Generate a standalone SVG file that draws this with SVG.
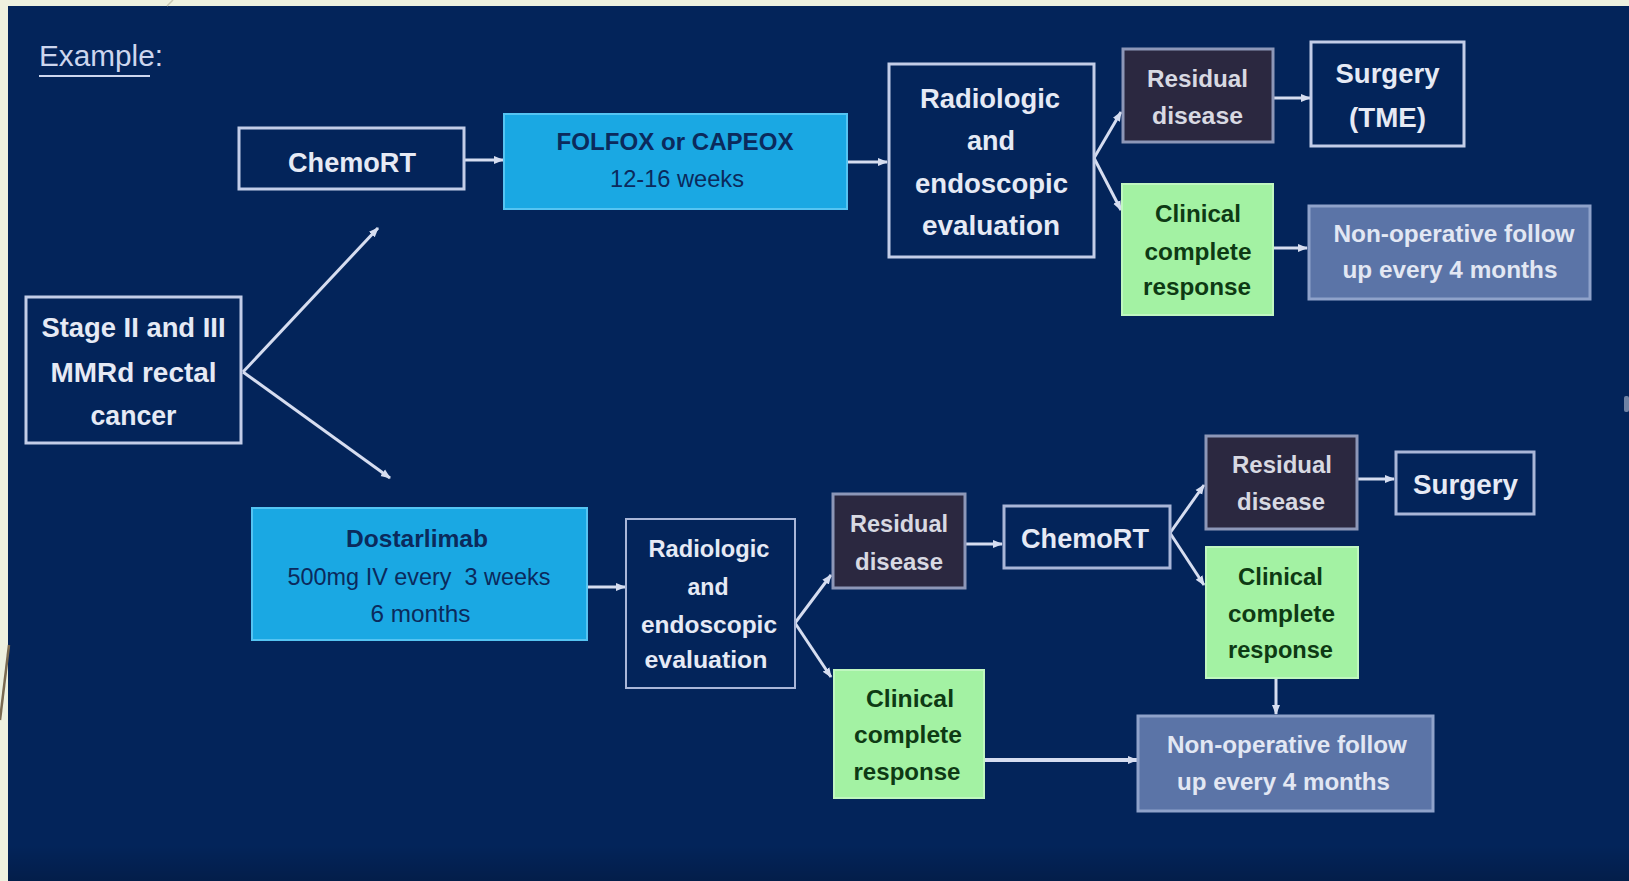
<svg xmlns="http://www.w3.org/2000/svg" width="1629" height="881" viewBox="0 0 1629 881">
<defs>
<style>
.t{font-family:"Liberation Sans",Arial,sans-serif;text-anchor:middle;font-weight:bold;}
.lt{fill:#e6eaf5;}
.dk{fill:#0b2a5c;}
.gr{fill:#0e3a14;}
.f28{font-size:28px;}
.f24{font-size:24px;}
.navy{fill:#03245a;stroke:#c3cde8;stroke-width:3;}
.blue{fill:#1aa8e3;stroke:#55c4f2;stroke-width:2;}
.green{fill:#a3f2a3;stroke:#c0f7c0;stroke-width:2;}
.resid{fill:#2b2840;stroke:#8d97b8;stroke-width:3;}
.nonop{fill:#5b74a7;stroke:#8fa2ca;stroke-width:3;}
.c{fill:none;stroke:#d6ddf0;stroke-width:3;marker-end:url(#ah);}
</style>
<marker id="ah" markerUnits="userSpaceOnUse" markerWidth="10" markerHeight="10" refX="9" refY="5" orient="auto">
<path d="M0,1 L10,5 L0,9 z" fill="#d6ddf0"/>
</marker>
<linearGradient id="btm" x1="0" y1="0" x2="0" y2="1">
<stop offset="0" stop-color="#000" stop-opacity="0"/>
<stop offset="1" stop-color="#000" stop-opacity="0.18"/>
</linearGradient>
</defs>
<rect x="0" y="0" width="1629" height="881" fill="#eef1df"/>
<rect x="8" y="6" width="1621" height="875" fill="#03245a"/>
<rect x="8" y="845" width="1621" height="36" fill="url(#btm)"/>
<line x1="9" y1="645" x2="0" y2="720" stroke="#7a6a50" stroke-width="2.5"/>
<line x1="173" y1="0" x2="167" y2="6" stroke="#c9c9b4" stroke-width="1.5"/>
<rect x="1624" y="396" width="5" height="16" rx="2" fill="#c8d0e2" opacity="0.55"/>

<g id="title">
<text x="39" y="66" font-family="Liberation Sans, Arial, sans-serif" font-size="30" fill="#cdd6ee" textLength="124" lengthAdjust="spacingAndGlyphs">Example:</text>
<line x1="39" y1="76" x2="150" y2="76" stroke="#cdd6ee" stroke-width="2"/>
</g>

<g id="connectors">
<path class="c" d="M243,372 L378,228"/>
<path class="c" d="M243,372 L390,478"/>
<path class="c" d="M464,160 L503,160"/>
<path class="c" d="M847,162 L887,162"/>
<path class="c" d="M1094,158 L1121,112"/>
<path class="c" d="M1094,158 L1121,210"/>
<path class="c" d="M1273,98 L1310,98"/>
<path class="c" d="M1273,248 L1307,248"/>
<path class="c" d="M587,587 L625,587"/>
<path class="c" d="M795,623 L831,575"/>
<path class="c" d="M795,623 L831,677"/>
<path class="c" d="M965,544 L1002,544"/>
<path class="c" d="M1170,533 L1204,485"/>
<path class="c" d="M1170,533 L1204,585"/>
<path class="c" d="M1357,479 L1394,479"/>
<path class="c" d="M1276,679 L1276,714"/>
<path class="c" d="M984,760 L1137,760" style="stroke-width:4"/>
</g>

<g id="stage">
<rect class="navy" x="26" y="297" width="215" height="146"/>
<text class="t lt f28" x="133.5" y="337" textLength="184" lengthAdjust="spacingAndGlyphs">Stage II and III</text>
<text class="t lt f28" x="133.5" y="382" textLength="166" lengthAdjust="spacingAndGlyphs">MMRd rectal</text>
<text class="t lt f28" x="133.5" y="425" textLength="86" lengthAdjust="spacingAndGlyphs">cancer</text>
</g>

<g id="chemort-top">
<rect class="navy" x="239" y="128" width="225" height="61"/>
<text class="t lt f28" x="352" y="172" textLength="128" lengthAdjust="spacingAndGlyphs">ChemoRT</text>
</g>

<g id="folfox">
<rect class="blue" x="504" y="114" width="343" height="95"/>
<text class="t dk f24" x="675" y="150" textLength="237" lengthAdjust="spacingAndGlyphs">FOLFOX or CAPEOX</text>
<text class="t dk f24" x="677" y="187" style="font-weight:normal" textLength="134" lengthAdjust="spacingAndGlyphs">12-16 weeks</text>
</g>

<g id="radiologic-top">
<rect class="navy" x="889" y="64" width="205" height="193"/>
<text class="t lt f28" x="990" y="108" textLength="140" lengthAdjust="spacingAndGlyphs">Radiologic</text>
<text class="t lt f28" x="991" y="150" textLength="48" lengthAdjust="spacingAndGlyphs">and</text>
<text class="t lt f28" x="991.5" y="193" textLength="153" lengthAdjust="spacingAndGlyphs">endoscopic</text>
<text class="t lt f28" x="991" y="235" textLength="138" lengthAdjust="spacingAndGlyphs">evaluation</text>
</g>

<g id="residual-top">
<rect class="resid" x="1123" y="49" width="150" height="93"/>
<text class="t f24" fill="#d8d9e2" x="1197.5" y="87" textLength="101" lengthAdjust="spacingAndGlyphs">Residual</text>
<text class="t f24" fill="#d8d9e2" x="1197.5" y="124" textLength="91" lengthAdjust="spacingAndGlyphs">disease</text>
</g>

<g id="surgery-tme">
<rect class="navy" x="1311" y="42" width="153" height="104"/>
<text class="t lt f28" x="1387.5" y="83" textLength="104" lengthAdjust="spacingAndGlyphs">Surgery</text>
<text class="t lt f28" x="1387.5" y="127" textLength="77" lengthAdjust="spacingAndGlyphs">(TME)</text>
</g>

<g id="ccr-top">
<rect class="green" x="1122" y="184" width="151" height="131"/>
<text class="t gr f24" x="1198" y="222" textLength="86" lengthAdjust="spacingAndGlyphs">Clinical</text>
<text class="t gr f24" x="1198" y="260" textLength="107" lengthAdjust="spacingAndGlyphs">complete</text>
<text class="t gr f24" x="1197" y="295" textLength="108" lengthAdjust="spacingAndGlyphs">response</text>
</g>

<g id="nonop-top">
<rect class="nonop" x="1309" y="206" width="281" height="93"/>
<text class="t f24" fill="#e2e7f3" x="1454" y="242" textLength="241" lengthAdjust="spacingAndGlyphs">Non-operative follow</text>
<text class="t f24" fill="#e2e7f3" x="1450" y="278" textLength="215" lengthAdjust="spacingAndGlyphs">up every 4 months</text>
</g>

<g id="dostarlimab">
<rect class="blue" x="252" y="508" width="335" height="132"/>
<text class="t dk f24" x="417" y="547" textLength="142" lengthAdjust="spacingAndGlyphs">Dostarlimab</text>
<text class="t dk f24" x="419" y="585" style="font-weight:normal" textLength="263" lengthAdjust="spacingAndGlyphs" xml:space="preserve">500mg IV every  3 weeks</text>
<text class="t dk f24" x="420.5" y="622" style="font-weight:normal" textLength="100" lengthAdjust="spacingAndGlyphs">6 months</text>
</g>

<g id="radiologic-bottom">
<rect class="navy" x="626" y="519" width="169" height="169" style="stroke:#a9b6d8;stroke-width:2"/>
<text class="t lt f24" x="709" y="557" textLength="121" lengthAdjust="spacingAndGlyphs">Radiologic</text>
<text class="t lt f24" x="708" y="595" textLength="41" lengthAdjust="spacingAndGlyphs">and</text>
<text class="t lt f24" x="709" y="633" textLength="136" lengthAdjust="spacingAndGlyphs">endoscopic</text>
<text class="t lt f24" x="706" y="668" textLength="123" lengthAdjust="spacingAndGlyphs">evaluation</text>
</g>

<g id="residual-bottom-left">
<rect class="resid" x="833" y="494" width="132" height="94"/>
<text class="t f24" fill="#d8d9e2" x="899" y="532" textLength="98" lengthAdjust="spacingAndGlyphs">Residual</text>
<text class="t f24" fill="#d8d9e2" x="899" y="570" textLength="88" lengthAdjust="spacingAndGlyphs">disease</text>
</g>

<g id="ccr-bottom-left">
<rect class="green" x="834" y="670" width="150" height="128"/>
<text class="t gr f24" x="910" y="707" textLength="88" lengthAdjust="spacingAndGlyphs">Clinical</text>
<text class="t gr f24" x="908" y="743" textLength="108" lengthAdjust="spacingAndGlyphs">complete</text>
<text class="t gr f24" x="907" y="780" textLength="107" lengthAdjust="spacingAndGlyphs">response</text>
</g>

<g id="chemort-bottom">
<rect class="navy" x="1004" y="506" width="166" height="62" style="stroke:#a9b6d8"/>
<text class="t lt f28" x="1085" y="548" textLength="128" lengthAdjust="spacingAndGlyphs">ChemoRT</text>
</g>

<g id="residual-bottom-right">
<rect class="resid" x="1206" y="436" width="151" height="93"/>
<text class="t f24" fill="#d8d9e2" x="1282" y="473" textLength="100" lengthAdjust="spacingAndGlyphs">Residual</text>
<text class="t f24" fill="#d8d9e2" x="1281" y="510" textLength="88" lengthAdjust="spacingAndGlyphs">disease</text>
</g>

<g id="surgery-bottom">
<rect class="navy" x="1396" y="452" width="138" height="62" style="stroke:#a9b6d8"/>
<text class="t lt f28" x="1465.5" y="494" textLength="105" lengthAdjust="spacingAndGlyphs">Surgery</text>
</g>

<g id="ccr-bottom-right">
<rect class="green" x="1206" y="547" width="152" height="131"/>
<text class="t gr f24" x="1280.5" y="585" textLength="85" lengthAdjust="spacingAndGlyphs">Clinical</text>
<text class="t gr f24" x="1281.5" y="622" textLength="107" lengthAdjust="spacingAndGlyphs">complete</text>
<text class="t gr f24" x="1280.5" y="658" textLength="105" lengthAdjust="spacingAndGlyphs">response</text>
</g>

<g id="nonop-bottom">
<rect class="nonop" x="1138" y="716" width="295" height="95"/>
<text class="t f24" fill="#e2e7f3" x="1287" y="753" textLength="240" lengthAdjust="spacingAndGlyphs">Non-operative follow</text>
<text class="t f24" fill="#e2e7f3" x="1283.5" y="790" textLength="213" lengthAdjust="spacingAndGlyphs">up every 4 months</text>
</g>
</svg>
